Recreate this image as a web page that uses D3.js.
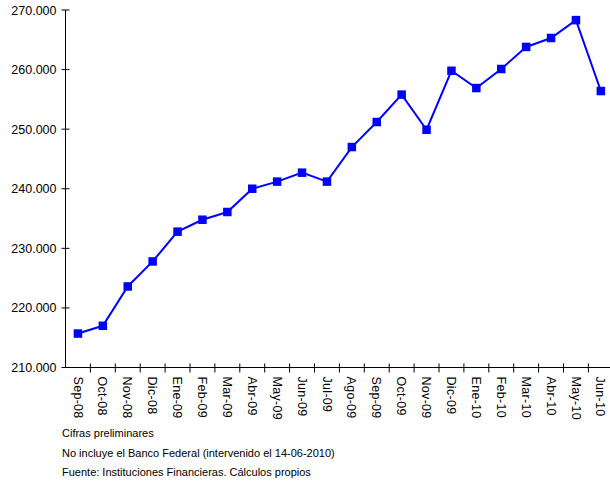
<!DOCTYPE html>
<html><head><meta charset="utf-8">
<script src="https://cdn.jsdelivr.net/npm/d3@7"></script>
<style>
html,body{margin:0;padding:0;background:#fff;}
svg{display:block;font-family:"Liberation Sans",Arial,sans-serif;}
</style></head>
<body><svg id="c" width="610" height="484"></svg>
<script>
const categories = ["Sep-08","Oct-08","Nov-08","Dic-08","Ene-09","Feb-09","Mar-09","Abr-09","May-09","Jun-09","Jul-09","Ago-09","Sep-09","Oct-09","Nov-09","Dic-09","Ene-10","Feb-10","Mar-10","Abr-10","May-10","Jun-10"];
const values = [215.7,217.0,223.6,227.8,232.8,234.8,236.1,240.0,241.2,242.7,241.2,247.0,251.2,255.8,249.9,259.8,256.9,260.1,263.8,265.3,268.3,256.4];
const yTicks = [210,220,230,240,250,260,270];
const notes = ["Cifras preliminares","No incluye el Banco Federal (intervenido el 14-06-2010)","Fuente: Instituciones Financieras. Cálculos propios"];

const svg = d3.select("#c");
const x0 = 65.5, bw = 24.9;
const x = d3.scaleBand().domain(categories).range([x0, x0 + bw*categories.length]).paddingInner(0).paddingOuter(0);
const y = d3.scaleLinear().domain([210,270]).range([367.5,10]);
const fmt = d => d3.format(".3f")(d/1000*1000/1000).replace(/,/g,"");
const yFmt = d => String(d) + ".000";

// y axis
const ya = svg.append("g").attr("transform",`translate(${x0},0)`);
ya.append("line").attr("x1",0).attr("x2",0).attr("y1",y(270)).attr("y2",y(210)).attr("stroke","#000");
ya.selectAll("line.t").data(yTicks).join("line").attr("class","t")
  .attr("x1",-4).attr("x2",4).attr("y1",d=>y(d)).attr("y2",d=>y(d)).attr("stroke","#000");
ya.selectAll("text").data(yTicks).join("text")
  .attr("x",-9).attr("y",d=>y(d)).attr("dy","0.36em").attr("text-anchor","end")
  .attr("font-size","12.5px").attr("fill","#000").text(yFmt);

// x axis
const xa = svg.append("g").attr("transform",`translate(0,${y(210)})`);
xa.append("line").attr("x1",x0).attr("x2",x0+bw*categories.length).attr("y1",0).attr("y2",0).attr("stroke","#000");
const bounds = categories.map((c,i)=>x(c)).concat([x0+bw*categories.length]);
xa.selectAll("line.t").data(bounds.slice(1)).join("line").attr("class","t")
  .attr("x1",d=>d).attr("x2",d=>d).attr("y1",-4).attr("y2",5).attr("stroke","#000");
xa.selectAll("text").data(categories).join("text")
  .attr("transform",d=>`translate(${x(d)+x.bandwidth()/2},9) rotate(90)`)
  .attr("dy","0.35em").attr("text-anchor","start")
  .attr("font-size","12.5px").attr("letter-spacing","0.3px").attr("fill","#000").text(d=>d);

// line
const line = d3.line().x((d,i)=>x(categories[i])+x.bandwidth()/2).y(d=>y(d));
svg.append("path").datum(values).attr("d",line).attr("fill","none").attr("stroke","#0000FF").attr("stroke-width",2);
const ms = 8.5;
svg.selectAll("rect.m").data(values).join("rect").attr("class","m")
  .attr("x",(d,i)=>x(categories[i])+x.bandwidth()/2-ms/2).attr("y",d=>y(d)-ms/2)
  .attr("width",ms).attr("height",ms).attr("fill","#0000FF");

// notes
svg.selectAll("text.n").data(notes).join("text").attr("class","n")
  .attr("x",62).attr("y",(d,i)=>437+i*19.5).attr("font-size","11px").attr("fill","#000").text(d=>d);
</script></body></html>
